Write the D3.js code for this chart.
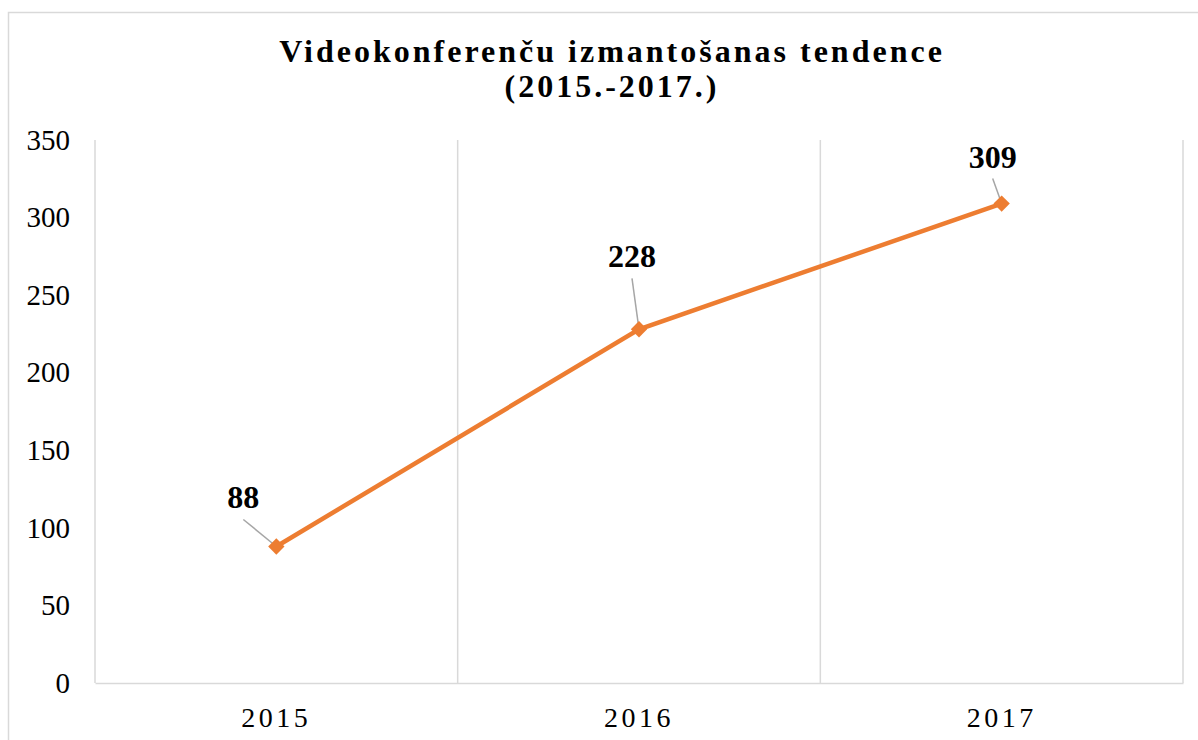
<!DOCTYPE html>
<html>
<head>
<meta charset="utf-8">
<script src="https://cdn.jsdelivr.net/npm/d3@7"></script>
<style>
  body { margin: 0; background: #fff; }
  text { font-family: "Liberation Serif", "Times New Roman", serif; }
</style>
</head>
<body>
<svg width="1198" height="740"></svg>
<script>
// data
var years = ["2015", "2016", "2017"];
var values = [88, 228, 309];
var yTicks = [0, 50, 100, 150, 200, 250, 300, 350];
var titleLines = ["Videokonferenču izmantošanas tendence", "(2015.-2017.)"];
// label offsets (dx, dy) relative to point
var labelOffsets = [[-33, -38], [-7, -62], [-9, -36]];

var svg = d3.select("svg"),
    margin = {top: 140, right: 15, bottom: 57, left: 95},
    width = +svg.attr("width") - margin.left - margin.right,
    height = +svg.attr("height") - margin.top - margin.bottom;

// outer chart border
svg.append("rect")
    .attr("x", 8.5).attr("y", 12.5)
    .attr("width", 1200).attr("height", 740)
    .attr("fill", "none")
    .attr("stroke", "#d9d9d9")
    .attr("stroke-width", 1.5);

var title = svg.append("text")
    .attr("text-anchor", "middle")
    .attr("font-weight", "bold")
    .attr("font-size", 32)
    .attr("letter-spacing", 3);
titleLines.forEach(function(t, i) {
    title.append("tspan").attr("x", 612).attr("y", 62 + i * 35).text(t);
});

var g = svg.append("g").attr("transform", "translate(" + margin.left + "," + margin.top + ")");

var x = d3.scaleBand().domain(years).range([0, width]).padding(0);
var y = d3.scaleLinear().domain([0, 350]).range([height, 0]);

// vertical gridlines at band edges
var edges = years.map(function(d) { return x(d); }).concat([width]);
g.selectAll(".vgrid")
  .data(edges)
  .enter().append("line")
    .attr("class", "vgrid")
    .attr("x1", function(d) { return d; })
    .attr("x2", function(d) { return d; })
    .attr("y1", 0)
    .attr("y2", height)
    .attr("stroke", "#d9d9d9")
    .attr("stroke-width", 1.5);

// x axis
var xAxis = g.append("g")
    .attr("transform", "translate(0," + height + ")")
    .call(d3.axisBottom(x).tickSize(0).tickPadding(24));
xAxis.select(".domain").attr("stroke", "#d9d9d9").attr("stroke-width", 1.5);
xAxis.selectAll("text")
    .attr("font-size", 28)
    .attr("letter-spacing", 3.5)
    .attr("fill", "#000");

// y axis
var yAxis = g.append("g")
    .call(d3.axisLeft(y).tickValues(yTicks).tickSize(0).tickPadding(25));
yAxis.select(".domain").remove();
yAxis.selectAll("text")
    .attr("font-size", 29)
    .attr("fill", "#000");

var line = d3.line()
    .x(function(d, i) { return x(years[i]) + x.bandwidth() / 2; })
    .y(function(d) { return y(d); });

g.append("path")
    .datum(values)
    .attr("fill", "none")
    .attr("stroke", "#ED7D31")
    .attr("stroke-width", 4.5)
    .attr("d", line);

// leader lines
g.selectAll(".leader")
  .data(values)
  .enter().append("line")
    .attr("class", "leader")
    .attr("x1", function(d, i) { return x(years[i]) + x.bandwidth() / 2 + labelOffsets[i][0]; })
    .attr("y1", function(d, i) { return y(d) + labelOffsets[i][1] + 11; })
    .attr("x2", function(d, i) { return x(years[i]) + x.bandwidth() / 2; })
    .attr("y2", function(d) { return y(d); })
    .attr("stroke", "#a6a6a6")
    .attr("stroke-width", 1.5);

g.selectAll(".marker")
  .data(values)
  .enter().append("path")
    .attr("class", "marker")
    .attr("transform", function(d, i) { return "translate(" + (x(years[i]) + x.bandwidth() / 2) + "," + y(d) + ")"; })
    .attr("d", d3.symbol().type(d3.symbolDiamond2).size(170))
    .attr("fill", "#ED7D31");

g.selectAll(".vlabel")
  .data(values)
  .enter().append("text")
    .attr("class", "vlabel")
    .attr("text-anchor", "middle")
    .attr("font-weight", "bold")
    .attr("font-size", 32)
    .attr("x", function(d, i) { return x(years[i]) + x.bandwidth() / 2 + labelOffsets[i][0]; })
    .attr("y", function(d, i) { return y(d) + labelOffsets[i][1]; })
    .text(function(d) { return d; });
</script>
</body>
</html>
